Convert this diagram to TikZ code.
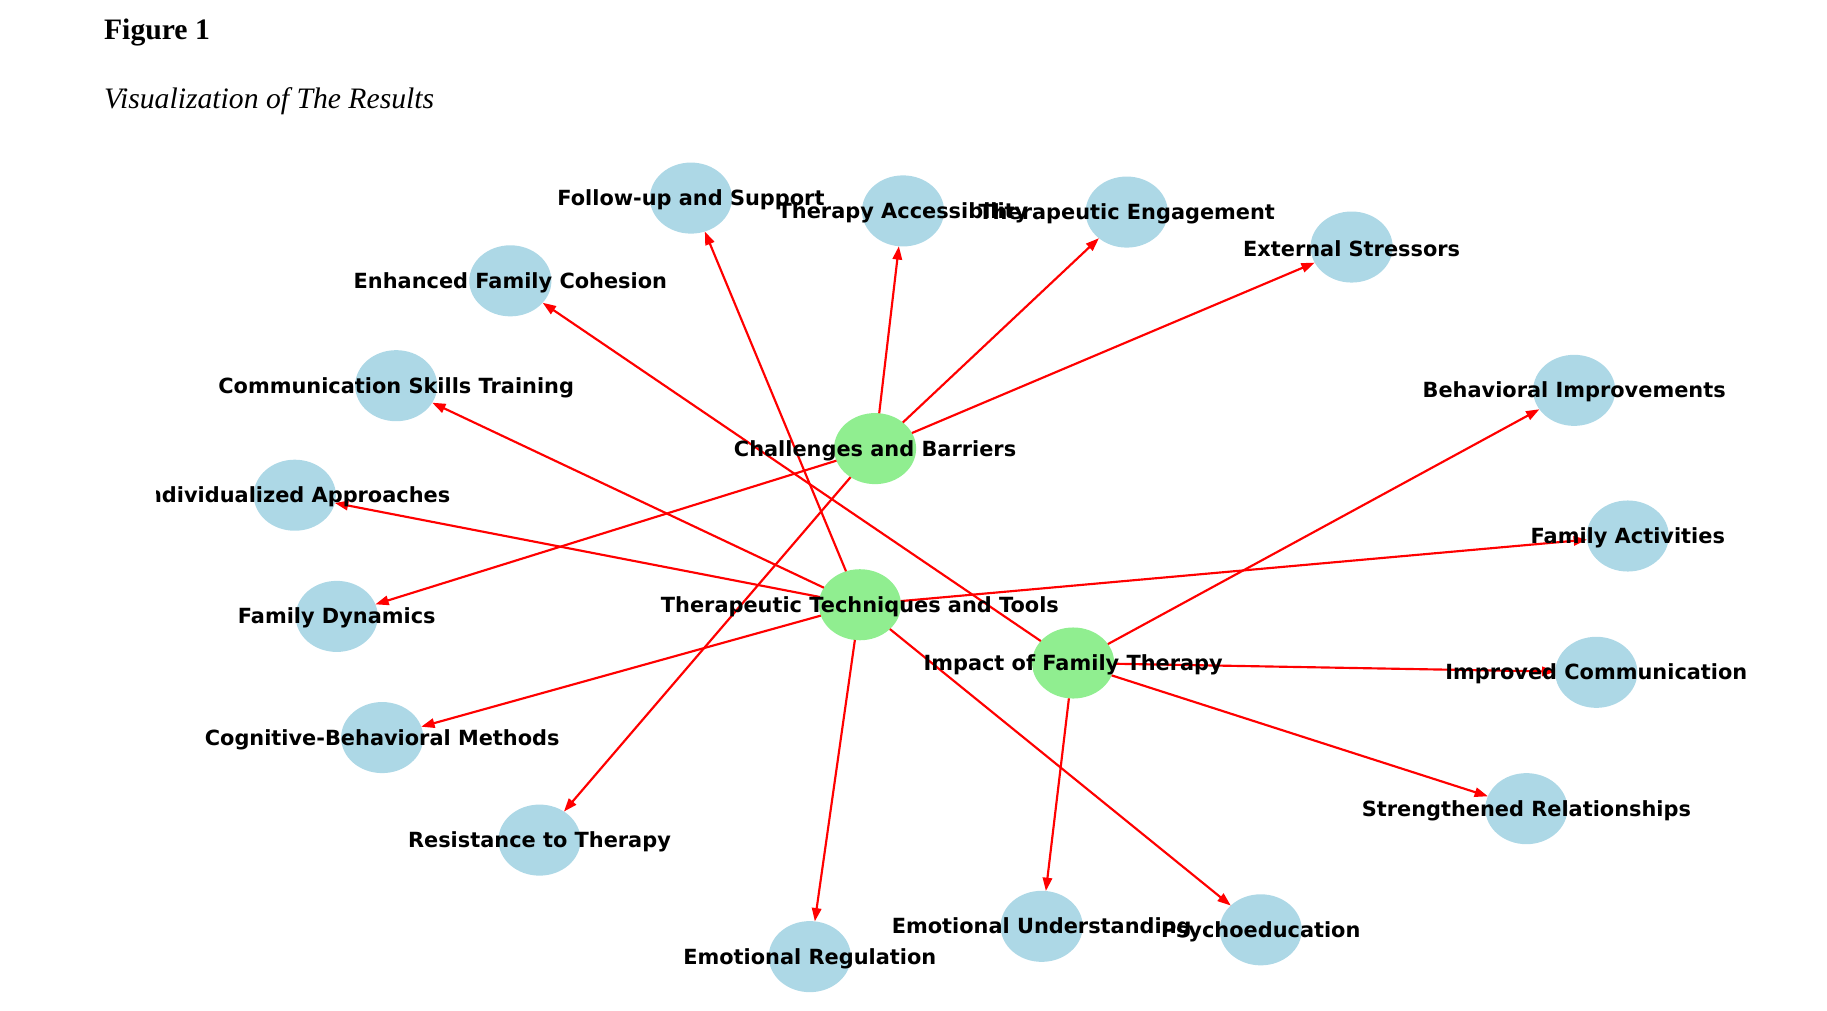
\documentclass[tikz,border=0pt]{standalone}
\usepackage{fontspec}
\setmainfont{Liberation Serif}
\newfontfamily\nodefont{DejaVu Sans}
\usetikzlibrary{shapes.geometric}
\usetikzlibrary{arrows.meta}
\definecolor{leafblue}{RGB}{173,216,230}
\definecolor{hubgreen}{RGB}{144,238,144}
\tikzset{leaf/.style={ellipse, fill=leafblue, minimum width=1.41cm, minimum height=1.22cm, inner sep=0pt, outer sep=0pt},
hub/.style={leaf, fill=hubgreen},
lbl/.style={inner sep=0pt, yshift=-0.03cm, font=\nodefont\bfseries\fontsize{10.2}{12}\selectfont},
link/.style={red, line width=1.05pt, -{Triangle[length=6.5pt, width=4.6pt]}}}

\begin{document}
\begin{tikzpicture}[x=0.02cm, y=-0.02cm]
\useasboundingbox (0,0) rectangle (1568,867);
% heading
\node[anchor=base west, inner sep=0pt, font=\fontsize{14.5}{17}\selectfont\bfseries] (fig) at (89,34.3) {Figure 1};
\node[anchor=base west, inner sep=0pt, font=\fontsize{14.5}{17}\selectfont\itshape] (cap) at (89,93) {Visualization of The Results};

% themes
\node[hub] (cb) at (751,385) {};
\node[hub] (ttt) at (738,519) {};
\node[hub] (ift) at (921,569) {};

% codes
\node[leaf] (fus) at (593,170) {};
\node[leaf] (ta) at (775,181) {};
\node[leaf] (te) at (967,182) {};
\node[leaf] (es) at (1160,212) {};
\node[leaf] (efc) at (438,241) {};
\node[leaf] (cst) at (340,331) {};
\node[leaf] (ia) at (253,425) {};
\node[leaf] (fd) at (289,529) {};
\node[leaf] (cbm) at (328,633) {};
\node[leaf] (rt) at (463,721) {};
\node[leaf] (er) at (695,821) {};
\node[leaf] (eu) at (894,795) {};
\node[leaf] (pe) at (1082,798) {};
\node[leaf] (sr) at (1310,694) {};
\node[leaf] (ic) at (1370,577) {};
\node[leaf] (fa) at (1397,460) {};
\node[leaf] (bi) at (1351,335) {};

% edges
\foreach \t in {ta,te,es,fd,rt}
     \draw[link] (cb) -- (\t);
\foreach \t in {fus,cst,ia,cbm,er,pe,fa}
     \draw[link] (ttt) -- (\t);
\foreach \t in {efc,bi,ic,sr,eu}
     \draw[link] (ift) -- (\t);

%labels
\begin{scope}
\clip (134,0) rectangle (1568,867);
\foreach \n/\ntext in {cb/Challenges and Barriers, ttt/Therapeutic Techniques and Tools,
     ift/Impact of Family Therapy, fus/Follow-up and Support, ta/Therapy Accessibility,
     te/Therapeutic Engagement, es/External Stressors, efc/Enhanced Family Cohesion,
     cst/Communication Skills Training, ia/Individualized Approaches, fd/Family Dynamics,
     cbm/Cognitive-Behavioral Methods, rt/Resistance to Therapy, er/Emotional Regulation,
     eu/Emotional Understanding, pe/Psychoeducation, sr/Strengthened Relationships,
     ic/Improved Communication, fa/Family Activities, bi/Behavioral Improvements}
     \node[lbl] (\n-t) at (\n) {\ntext};
\end{scope}
\end{tikzpicture}
\end{document}
